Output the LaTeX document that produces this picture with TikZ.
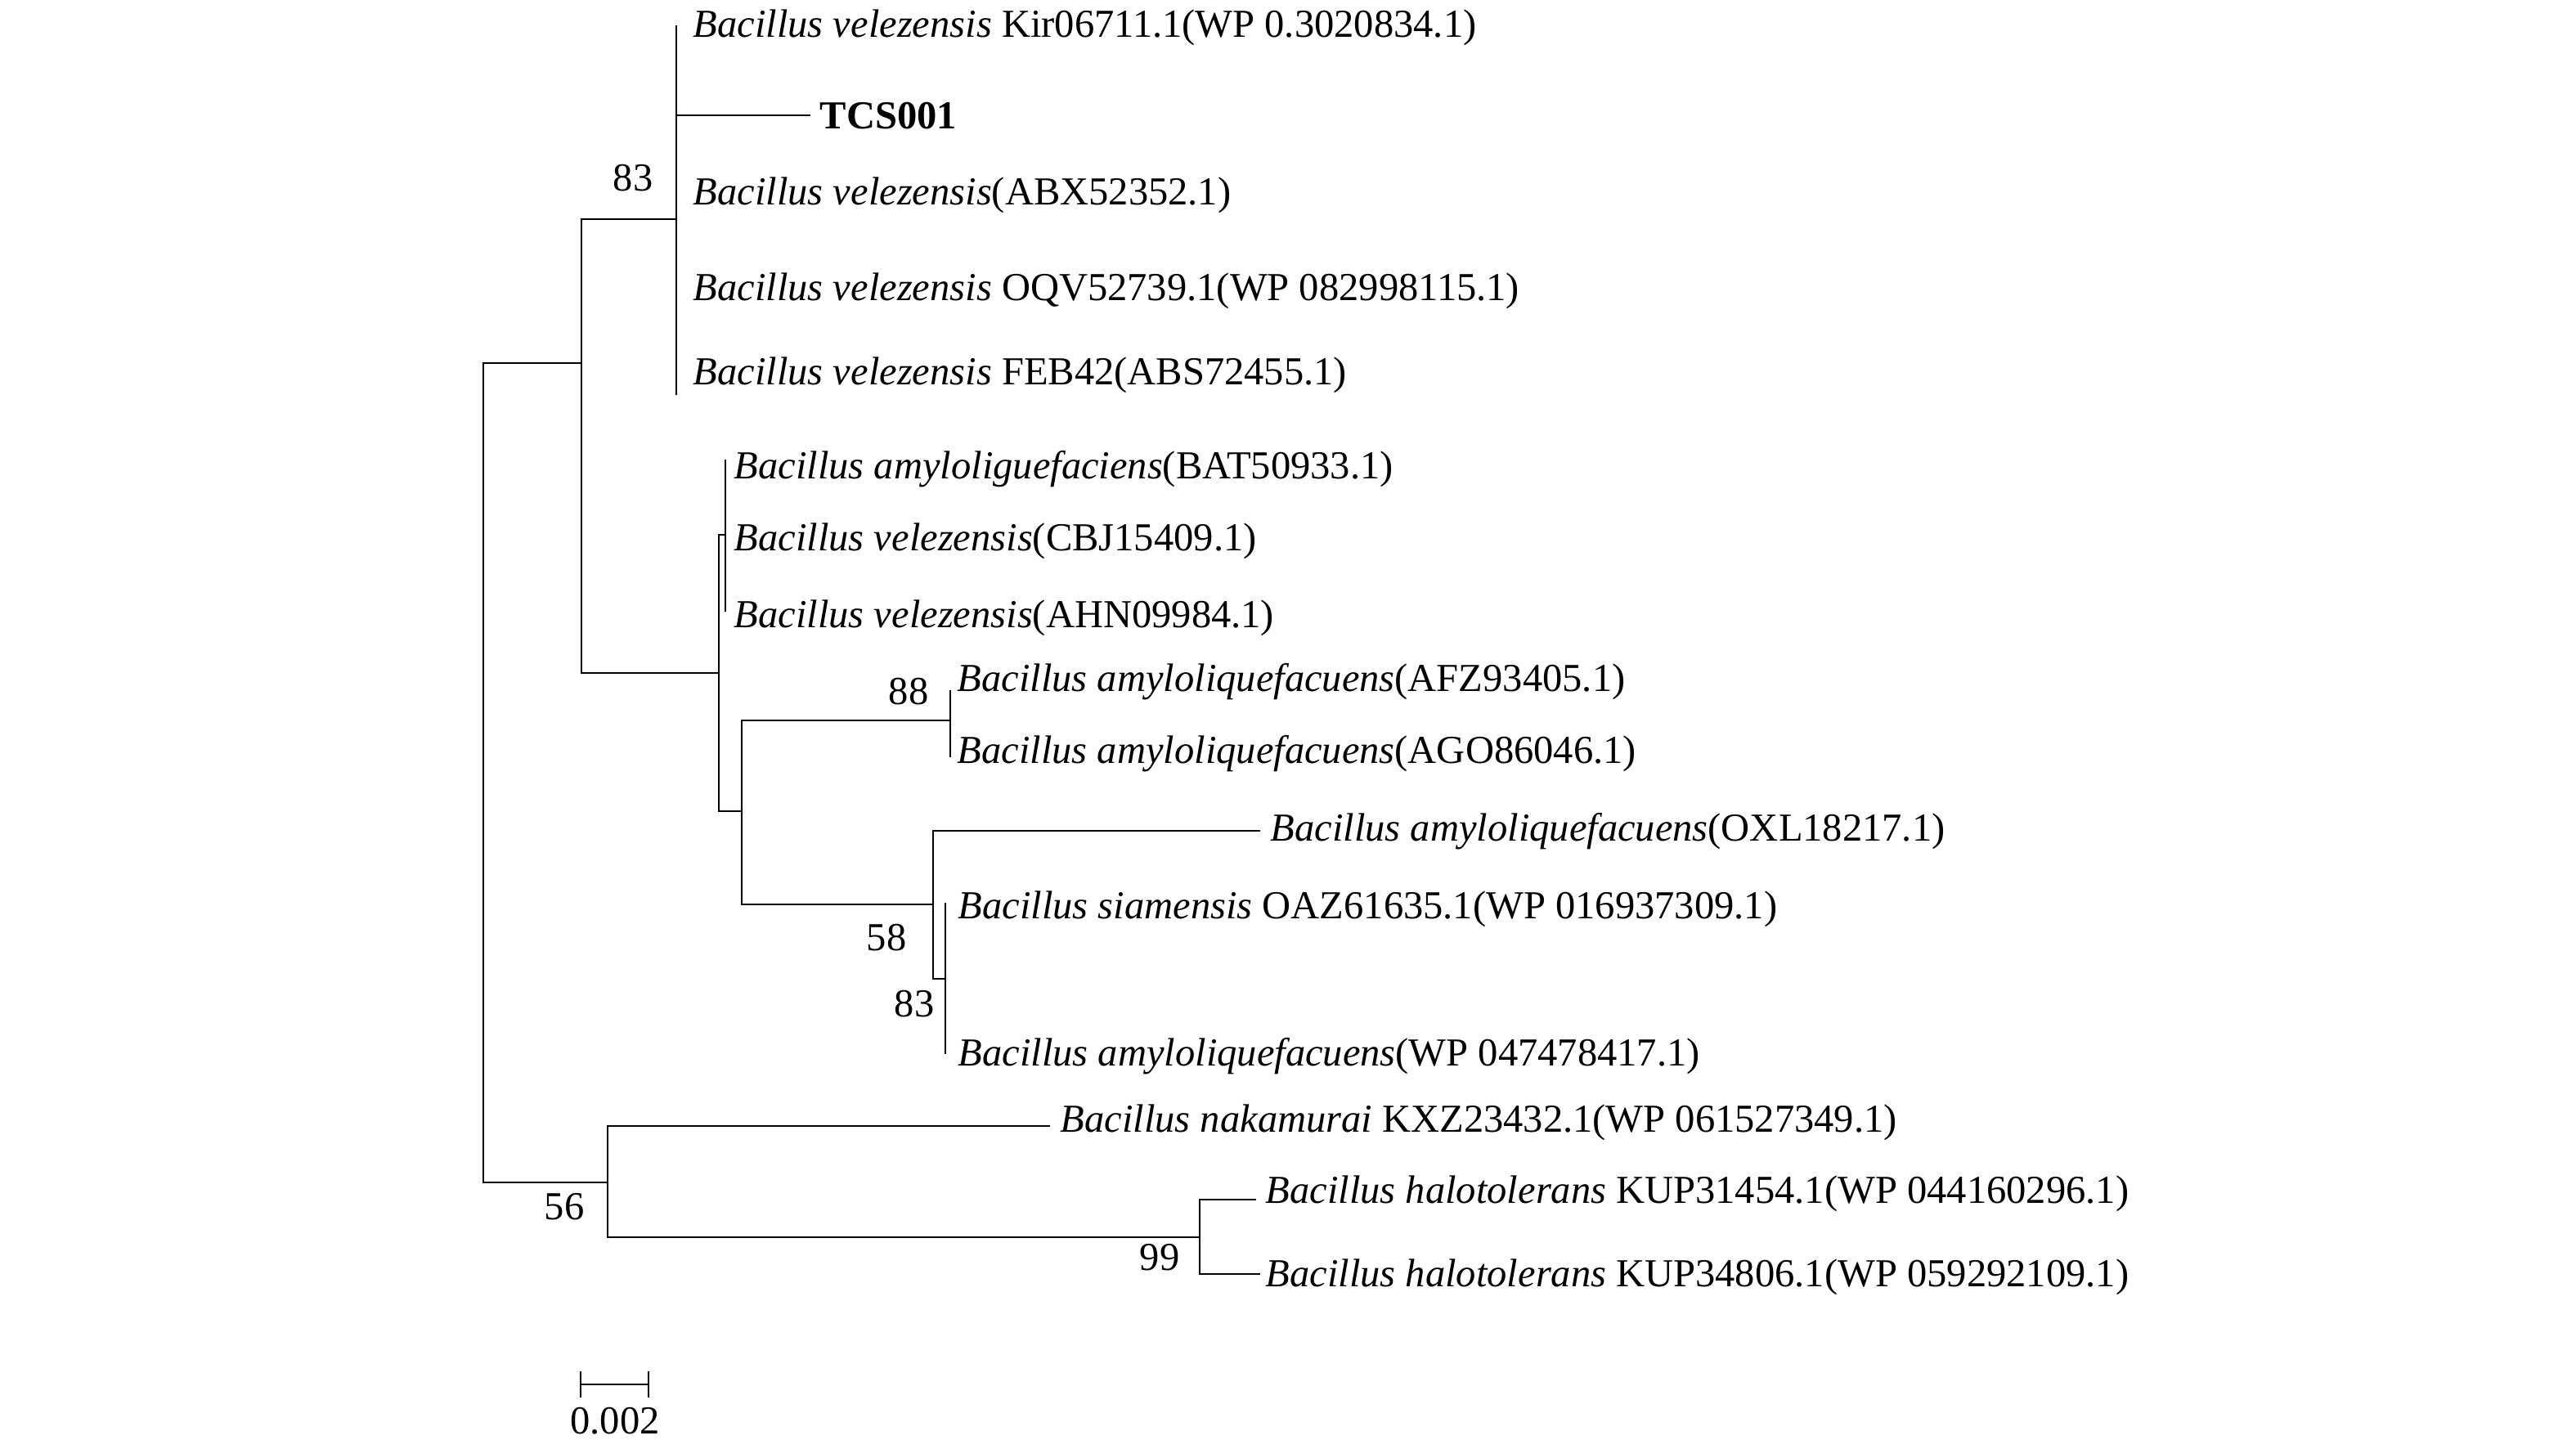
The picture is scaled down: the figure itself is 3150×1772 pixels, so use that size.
\documentclass[tikz,border=0pt]{standalone}
\usepackage{fontspec}
\setmainfont{Liberation Serif}
\begin{document}
\begin{tikzpicture}[x=0.01cm,y=-0.01cm,
  br/.style={line width=0.65pt, line cap=rect},
  leaf/.style={anchor=base west, inner sep=0pt, font=\fontsize{13.8}{16}\selectfont},
  boot/.style={anchor=base east, inner sep=0pt, font=\fontsize{13.8}{16}\selectfont},
  scaletext/.style={anchor=base, inner sep=0pt, font=\fontsize{13.8}{16}\selectfont}]
\useasboundingbox (0,0) rectangle (3150,1772);
% internal nodes
\coordinate (R) at (591,945);
\coordinate (A) at (711,444);
\coordinate (C83) at (827,268);
\coordinate (B) at (879,823);
\coordinate (K) at (887,654);
\coordinate (D) at (907,992);
\coordinate (C88) at (1162,881);
\coordinate (E) at (1141,1106);
\coordinate (F) at (1156,1197);
\coordinate (N56) at (743,1446);
\coordinate (N99) at (1467,1513);
% leaf tips
\coordinate (tKir) at (827,32);
\coordinate (tTCS) at (990,141);
\coordinate (tFEB) at (827,482);
\coordinate (tBAT) at (887,563);
\coordinate (tAHN) at (887,747);
\coordinate (tAFZ) at (1162,845);
\coordinate (tAGO) at (1162,925);
\coordinate (tOXL) at (1540,1016);
\coordinate (tSIA) at (1156,1105);
\coordinate (tWP) at (1156,1288);
\coordinate (tNAK) at (1283,1377);
\coordinate (tH1) at (1535,1467);
\coordinate (tH2) at (1540,1558);
% branches
\draw[br] (R) |- (A);
\draw[br] (R) |- (N56);
\draw[br] (A) |- (C83);
\draw[br] (A) |- (B);
\draw[br] (C83) |- (tKir);
\draw[br] (C83) |- (tTCS);
\draw[br] (C83) |- (tFEB);
\draw[br] (B) |- (K);
\draw[br] (B) |- (D);
\draw[br] (K) |- (tBAT);
\draw[br] (K) |- (tAHN);
\draw[br] (D) |- (C88);
\draw[br] (D) |- (E);
\draw[br] (C88) |- (tAFZ);
\draw[br] (C88) |- (tAGO);
\draw[br] (E) |- (tOXL);
\draw[br] (E) |- (F);
\draw[br] (F) |- (tSIA);
\draw[br] (F) |- (tWP);
\draw[br] (N56) |- (tNAK);
\draw[br] (N56) |- (N99);
\draw[br] (N99) |- (tH1);
\draw[br] (N99) |- (tH2);
% leaf labels
\node[leaf] (lKir) at (847,45) {\textit{Bacillus velezensis} Kir06711.1(WP 0.3020834.1)};
\node[leaf] (lTCS) at (1002,157) {\textbf{TCS001}};
\node[leaf] (lABX) at (847,250) {\textit{Bacillus velezensis}(ABX52352.1)};
\node[leaf] (lOQV) at (847,367) {\textit{Bacillus velezensis} OQV52739.1(WP 082998115.1)};
\node[leaf] (lFEB) at (847,470) {\textit{Bacillus velezensis} FEB42(ABS72455.1)};
\node[leaf] (lBAT) at (897,585) {\textit{Bacillus amyloliguefaciens}(BAT50933.1)};
\node[leaf] (lCBJ) at (897,673) {\textit{Bacillus velezensis}(CBJ15409.1)};
\node[leaf] (lAHN) at (897,767) {\textit{Bacillus velezensis}(AHN09984.1)};
\node[leaf] (lAFZ) at (1170,845) {\textit{Bacillus amyloliquefacuens}(AFZ93405.1)};
\node[leaf] (lAGO) at (1170,933) {\textit{Bacillus amyloliquefacuens}(AGO86046.1)};
\node[leaf] (lOXL) at (1553,1028) {\textit{Bacillus amyloliquefacuens}(OXL18217.1)};
\node[leaf] (lSIA) at (1171,1123) {\textit{Bacillus siamensis} OAZ61635.1(WP 016937309.1)};
\node[leaf] (lWP) at (1171,1303) {\textit{Bacillus amyloliquefacuens}(WP 047478417.1)};
\node[leaf] (lNAK) at (1296,1384) {\textit{Bacillus nakamurai} KXZ23432.1(WP 061527349.1)};
\node[leaf] (lH1) at (1547,1471) {\textit{Bacillus halotolerans} KUP31454.1(WP 044160296.1)};
\node[leaf] (lH2) at (1547,1573) {\textit{Bacillus halotolerans} KUP34806.1(WP 059292109.1)};
% bootstrap values
\node[boot] (b83a) at (799,233) {83};
\node[boot] (b88) at (1136,861) {88};
\node[boot] (b58) at (1109,1162) {58};
\node[boot] (b83b) at (1143,1243) {83};
\node[boot] (b56) at (715,1491) {56};
\node[boot] (b99) at (1443,1553) {99};
% scale bar
\coordinate (s1) at (710,1693);
\coordinate (s2) at (793,1693);
\draw[br, line cap=butt] (s1) -- (s2);
\draw[br, line cap=butt] (s1) ++(0,-16) -- ++(0,32);
\draw[br, line cap=butt] (s2) ++(0,-16) -- ++(0,32);
\node[scaletext] (sl) at (752,1753) {0.002};
\end{tikzpicture}
\end{document}
